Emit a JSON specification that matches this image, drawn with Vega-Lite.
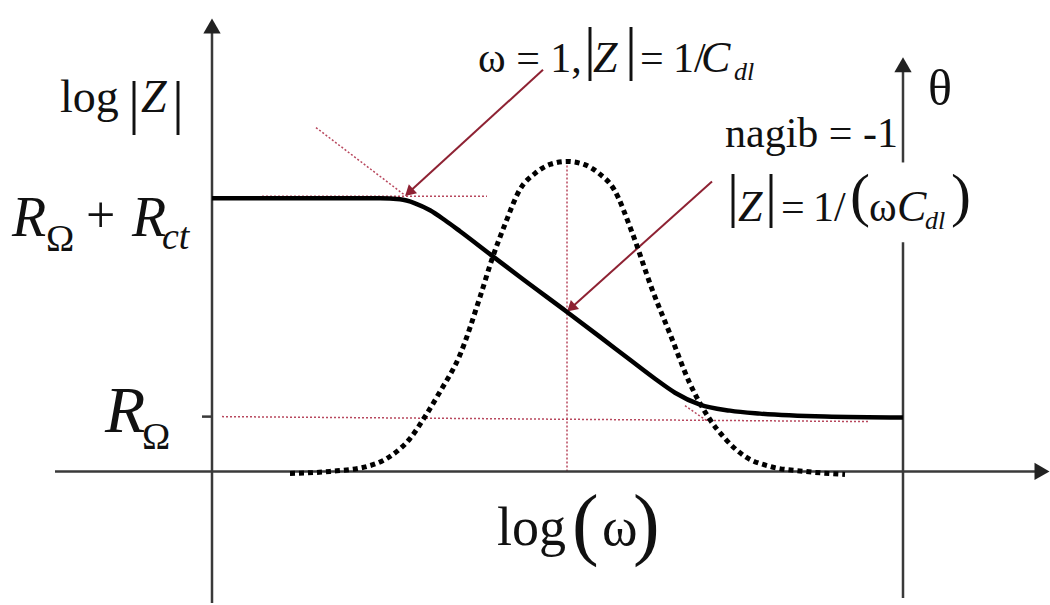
{
  "$schema": "https://vega.github.io/schema/vega-lite/v6.json",
  "width": 1050,
  "height": 605,
  "autosize": {"type": "fit", "contains": "padding"},
  "padding": 0,
  "background": "white",
  "config": {"view": {"stroke": null}},
  "datasets": {
    "magnitude": [
      {"x": 0, "y": 274}, {"x": 88, "y": 274}, {"x": 168, "y": 274}, {"x": 188, "y": 273},
      {"x": 203, "y": 269}, {"x": 218, "y": 262}, {"x": 233, "y": 252}, {"x": 248, "y": 241},
      {"x": 278, "y": 218}, {"x": 308, "y": 195}, {"x": 355, "y": 160}, {"x": 388, "y": 135},
      {"x": 418, "y": 112}, {"x": 443, "y": 93}, {"x": 463, "y": 79}, {"x": 488, "y": 67},
      {"x": 518, "y": 61}, {"x": 548, "y": 58}, {"x": 613, "y": 55}, {"x": 691, "y": 54}
    ],
    "phase": [
      {"x": 78, "y": -2}, {"x": 118, "y": 0}, {"x": 155, "y": 5}, {"x": 178, "y": 15},
      {"x": 198, "y": 33}, {"x": 213, "y": 55}, {"x": 228, "y": 80}, {"x": 248, "y": 117},
      {"x": 268, "y": 175}, {"x": 280, "y": 213}, {"x": 293, "y": 248}, {"x": 308, "y": 283},
      {"x": 323, "y": 299}, {"x": 338, "y": 308}, {"x": 355, "y": 311}, {"x": 372, "y": 308},
      {"x": 387, "y": 299}, {"x": 402, "y": 283}, {"x": 420, "y": 240}, {"x": 440, "y": 183},
      {"x": 458, "y": 138}, {"x": 478, "y": 88}, {"x": 496, "y": 55}, {"x": 513, "y": 33},
      {"x": 533, "y": 15}, {"x": 558, "y": 5}, {"x": 593, "y": 0}, {"x": 633, "y": -3}
    ],
    "guides": [
      {"x": 50, "y": 276, "x2": 275, "y2": 276},
      {"x": 104, "y": 345, "x2": 193, "y2": 277},
      {"x": 10, "y": 55, "x2": 658, "y2": 50},
      {"x": 355, "y": 311, "x2": 355, "y2": 0},
      {"x": 473, "y": 66, "x2": 496, "y2": 50}
    ],
    "axes": [
      {"x": 0, "y": -132, "x2": 0, "y2": 443},
      {"x": -157, "y": 0, "x2": 828, "y2": 0},
      {"x": -10, "y": 55, "x2": 0, "y2": 55},
      {"x": 691, "y": -127, "x2": 691, "y2": 230},
      {"x": 691, "y": 310, "x2": 691, "y2": 404}
    ],
    "axisHeads": [
      {"x": 0, "y": 447, "dir": "up"},
      {"x": 830, "y": 0, "dir": "right"},
      {"x": 691, "y": 408, "dir": "up"}
    ],
    "callouts": [
      {"x": 331, "y": 403, "x2": 197, "y2": 280},
      {"x": 500, "y": 291, "x2": 359, "y2": 164}
    ],
    "calloutHeads": [
      {"x": 197, "y": 280},
      {"x": 359, "y": 164}
    ],
    "labels": [
      {"x": -152, "y": 361, "text": "log", "role": "axisTitle"},
      {"x": -84, "y": 351, "text": "|", "role": "bar"},
      {"x": -71, "y": 361, "text": "Z", "role": "axisTitleVar"},
      {"x": -40, "y": 351, "text": "|", "role": "bar"},
      {"x": -200, "y": 236, "text": "R", "role": "level"},
      {"x": -166, "y": 221, "text": "Ω", "role": "levelSub"},
      {"x": -126, "y": 240, "text": "+", "role": "op"},
      {"x": -80, "y": 236, "text": "R", "role": "level"},
      {"x": -50, "y": 223, "text": "ct", "role": "levelSubIt"},
      {"x": -107, "y": 40, "text": "R", "role": "levelLow"},
      {"x": -70, "y": 23, "text": "Ω", "role": "levelSub"},
      {"x": 266, "y": 401, "text": "ω = 1,", "role": "note"},
      {"x": 372, "y": 405, "text": "|", "role": "bar"},
      {"x": 381, "y": 401, "text": "Z", "role": "noteVar"},
      {"x": 413, "y": 405, "text": "|", "role": "bar"},
      {"x": 428, "y": 401, "text": "=", "role": "note"},
      {"x": 461, "y": 401, "text": "1/", "role": "note"},
      {"x": 489, "y": 401, "text": "C", "role": "noteVar"},
      {"x": 522, "y": 393, "text": "dl", "role": "noteSub"},
      {"x": 513, "y": 326, "text": "nagib = -1", "role": "note"},
      {"x": 515, "y": 257, "text": "|", "role": "bar"},
      {"x": 526, "y": 251, "text": "Z", "role": "noteVar"},
      {"x": 553, "y": 257, "text": "|", "role": "bar"},
      {"x": 569, "y": 251, "text": "=", "role": "note"},
      {"x": 601, "y": 251, "text": "1/", "role": "note"},
      {"x": 638, "y": 257, "text": "(", "role": "bar"},
      {"x": 657, "y": 251, "text": "ω", "role": "note"},
      {"x": 685, "y": 251, "text": "C", "role": "noteVar"},
      {"x": 713, "y": 243, "text": "dl", "role": "noteSub"},
      {"x": 739, "y": 257, "text": ")", "role": "bar"},
      {"x": 716, "y": 368, "text": "θ", "role": "theta"},
      {"x": 285, "y": -74, "text": "log", "role": "xTitle"},
      {"x": 360, "y": -79, "text": "(", "role": "xParen"},
      {"x": 390, "y": -74, "text": "ω", "role": "xTitle"},
      {"x": 421, "y": -79, "text": ")", "role": "xParen"}
    ]
  },
  "encoding": {
    "x": {"field": "x", "type": "quantitative", "scale": {"domain": [-212, 838], "nice": false, "zero": false}, "axis": null},
    "y": {"field": "y", "type": "quantitative", "scale": {"domain": [-132, 473], "nice": false, "zero": false}, "axis": null}
  },
  "layer": [
    {
      "data": {"name": "guides"},
      "mark": {"type": "rule", "color": "#b8485e", "strokeWidth": 1.5, "strokeDash": [2, 2]},
      "encoding": {"x2": {"field": "x2"}, "y2": {"field": "y2"}}
    },
    {
      "data": {"name": "axes"},
      "mark": {"type": "rule", "color": "#3a3a3a", "strokeWidth": 2.5},
      "encoding": {"x2": {"field": "x2"}, "y2": {"field": "y2"}}
    },
    {
      "data": {"name": "axisHeads"},
      "mark": {"type": "point", "filled": true, "color": "#222222", "opacity": 1, "size": 300},
      "encoding": {
        "shape": {"field": "dir", "type": "nominal", "scale": {"domain": ["up", "right"], "range": ["triangle-up", "triangle-right"]}, "legend": null}
      }
    },
    {
      "data": {"name": "callouts"},
      "mark": {"type": "rule", "color": "#8e2233", "strokeWidth": 2},
      "encoding": {"x2": {"field": "x2"}, "y2": {"field": "y2"}}
    },
    {
      "data": {"name": "calloutHeads"},
      "mark": {"type": "point", "shape": "triangle-up", "angle": 228, "filled": true, "color": "#8e2233", "opacity": 1, "size": 150},
      "encoding": {}
    },
    {
      "data": {"name": "phase"},
      "mark": {"type": "line", "color": "#000000", "strokeWidth": 5, "strokeDash": [5, 4], "interpolate": "monotone"},
      "encoding": {}
    },
    {
      "data": {"name": "magnitude"},
      "mark": {"type": "line", "color": "#000000", "strokeWidth": 4.5, "interpolate": "monotone"},
      "encoding": {}
    },
    {
      "data": {"name": "labels"},
      "transform": [{"filter": "datum.role == 'axisTitle'"}],
      "mark": {"type": "text", "align": "left", "baseline": "alphabetic", "font": "Liberation Serif", "fontSize": 46, "color": "#111111"},
      "encoding": {"text": {"field": "text"}}
    },
    {
      "data": {"name": "labels"},
      "transform": [{"filter": "datum.role == 'axisTitleVar'"}],
      "mark": {"type": "text", "align": "left", "baseline": "alphabetic", "font": "Liberation Serif", "fontStyle": "italic", "fontSize": 46, "color": "#111111"},
      "encoding": {"text": {"field": "text"}}
    },
    {
      "data": {"name": "labels"},
      "transform": [{"filter": "datum.role == 'bar'"}],
      "mark": {"type": "text", "align": "left", "baseline": "alphabetic", "font": "Liberation Serif", "fontSize": 60, "color": "#111111"},
      "encoding": {"text": {"field": "text"}}
    },
    {
      "data": {"name": "labels"},
      "transform": [{"filter": "datum.role == 'level'"}],
      "mark": {"type": "text", "align": "left", "baseline": "alphabetic", "font": "Liberation Serif", "fontStyle": "italic", "fontSize": 56, "color": "#111111"},
      "encoding": {"text": {"field": "text"}}
    },
    {
      "data": {"name": "labels"},
      "transform": [{"filter": "datum.role == 'op'"}],
      "mark": {"type": "text", "align": "left", "baseline": "alphabetic", "font": "Liberation Serif", "fontSize": 52, "color": "#111111"},
      "encoding": {"text": {"field": "text"}}
    },
    {
      "data": {"name": "labels"},
      "transform": [{"filter": "datum.role == 'levelSub'"}],
      "mark": {"type": "text", "align": "left", "baseline": "alphabetic", "font": "Liberation Serif", "fontSize": 38, "color": "#111111"},
      "encoding": {"text": {"field": "text"}}
    },
    {
      "data": {"name": "labels"},
      "transform": [{"filter": "datum.role == 'levelSubIt'"}],
      "mark": {"type": "text", "align": "left", "baseline": "alphabetic", "font": "Liberation Serif", "fontStyle": "italic", "fontSize": 38, "color": "#111111"},
      "encoding": {"text": {"field": "text"}}
    },
    {
      "data": {"name": "labels"},
      "transform": [{"filter": "datum.role == 'levelLow'"}],
      "mark": {"type": "text", "align": "left", "baseline": "alphabetic", "font": "Liberation Serif", "fontStyle": "italic", "fontSize": 66, "color": "#111111"},
      "encoding": {"text": {"field": "text"}}
    },
    {
      "data": {"name": "labels"},
      "transform": [{"filter": "datum.role == 'note'"}],
      "mark": {"type": "text", "align": "left", "baseline": "alphabetic", "font": "Liberation Serif", "fontSize": 42, "color": "#111111"},
      "encoding": {"text": {"field": "text"}}
    },
    {
      "data": {"name": "labels"},
      "transform": [{"filter": "datum.role == 'noteVar'"}],
      "mark": {"type": "text", "align": "left", "baseline": "alphabetic", "font": "Liberation Serif", "fontStyle": "italic", "fontSize": 44, "color": "#111111"},
      "encoding": {"text": {"field": "text"}}
    },
    {
      "data": {"name": "labels"},
      "transform": [{"filter": "datum.role == 'noteSub'"}],
      "mark": {"type": "text", "align": "left", "baseline": "alphabetic", "font": "Liberation Serif", "fontStyle": "italic", "fontSize": 26, "color": "#111111"},
      "encoding": {"text": {"field": "text"}}
    },
    {
      "data": {"name": "labels"},
      "transform": [{"filter": "datum.role == 'theta'"}],
      "mark": {"type": "text", "align": "left", "baseline": "alphabetic", "font": "Liberation Serif", "fontSize": 50, "color": "#111111"},
      "encoding": {"text": {"field": "text"}}
    },
    {
      "data": {"name": "labels"},
      "transform": [{"filter": "datum.role == 'xTitle'"}],
      "mark": {"type": "text", "align": "left", "baseline": "alphabetic", "font": "Liberation Serif", "fontSize": 54, "color": "#111111"},
      "encoding": {"text": {"field": "text"}}
    },
    {
      "data": {"name": "labels"},
      "transform": [{"filter": "datum.role == 'xParen'"}],
      "mark": {"type": "text", "align": "left", "baseline": "alphabetic", "font": "Liberation Serif", "fontSize": 80, "color": "#111111"},
      "encoding": {"text": {"field": "text"}}
    }
  ]
}
